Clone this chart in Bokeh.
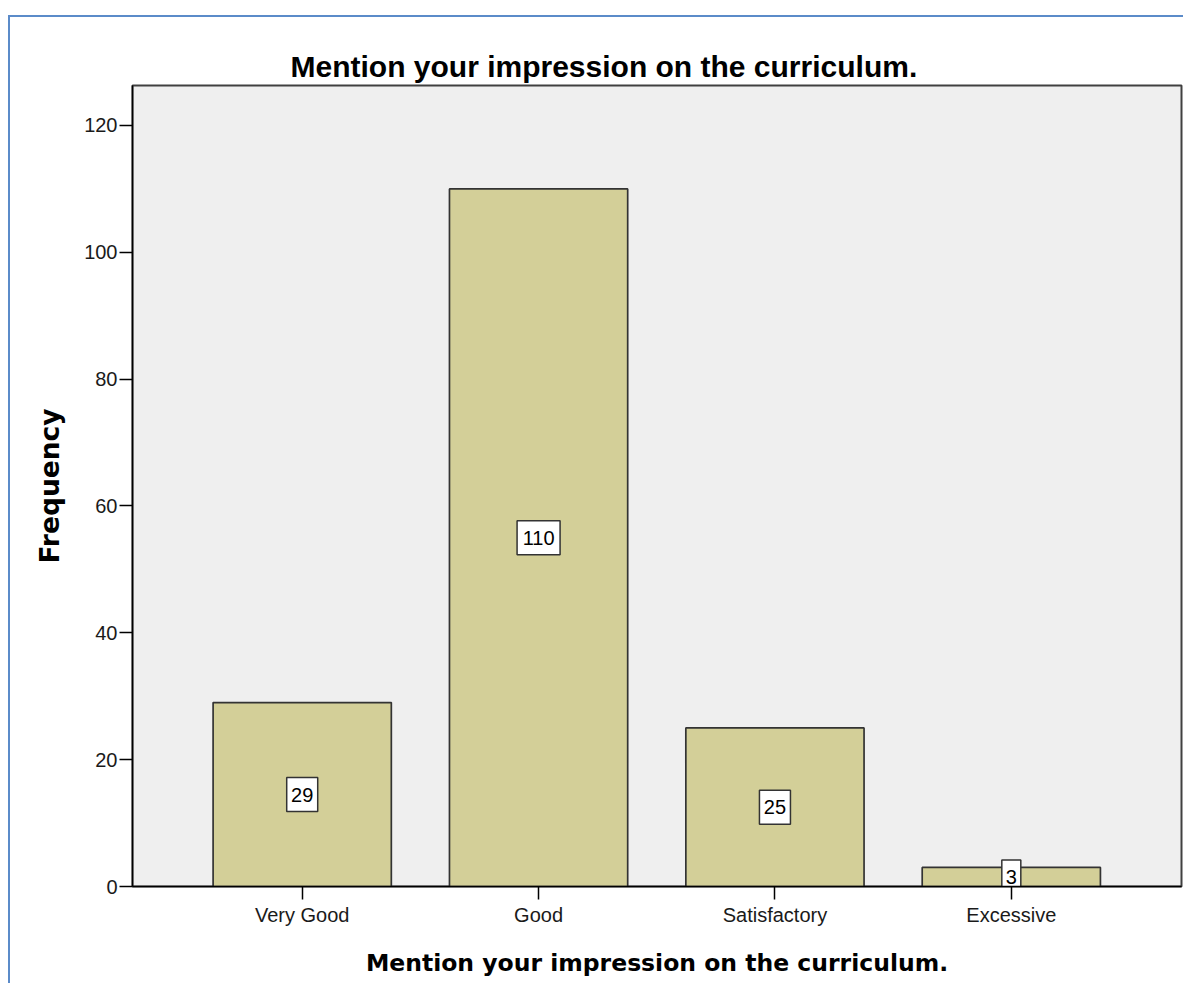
from bokeh.plotting import figure
from bokeh.models import Range1d, FixedTicker, ColumnDataSource
from bokeh.layouts import column
from bokeh.embed import file_html
from bokeh.resources import INLINE
from bokeh.core.properties import value

categories = ["Very Good", "Good", "Satisfactory", "Excessive"]
counts = [29, 110, 25, 3]
y_ticks = [0, 20, 40, 60, 80, 100, 120]
chart_title = "Mention your impression on the curriculum."
x_title = "Mention your impression on the curriculum."
y_title = "Frequency"

xs = list(range(1, len(categories) + 1))
mids = [c / 2 for c in counts]
labels = [str(c) for c in counts]
box_w = [12 * len(s) + 7 for s in labels]

src = ColumnDataSource(dict(x=xs, top=counts, mid=mids, label=labels, bw=box_w))

p = figure(width=1173, height=966,
           x_range=Range1d(0.282, 4.72), y_range=Range1d(0, 126.3),
           output_backend="svg", toolbar_location=None,
           min_border_left=122, min_border_right=2,
           min_border_top=68, min_border_bottom=97)

p.title.text = chart_title
p.title.align = "left"
p.title.offset = 158
p.title.standoff = 6
p.title.text_font = "Liberation Sans"
p.title.text_font_style = "bold"
p.title.text_font_size = "30px"
p.title.text_color = "black"

p.background_fill_color = "#efefef"
p.border_fill_color = "white"
p.outline_line_color = "#404040"
p.outline_line_width = 2
p.xgrid.visible = False
p.ygrid.visible = False

p.vbar(x="x", top="top", bottom=0, width=0.754, source=src,
       fill_color="#d3cf98", line_color="#333333", line_width=1.7)
p.rect(x="x", y="mid", width="bw", height=34, width_units="screen",
       height_units="screen", source=src, fill_color="white",
       line_color="#333333", line_width=1.5)
p.text(x="x", y="mid", text="label", source=src, text_align="center",
       text_baseline="middle", text_font=value("Liberation Sans"),
       text_font_size="20px", text_color="black")

xa = p.xaxis[0]
xa.ticker = FixedTicker(ticks=xs)
xa.major_label_overrides = {x: c for x, c in zip(xs, categories)}
ya = p.yaxis[0]
ya.ticker = FixedTicker(ticks=y_ticks)

for ax in (xa, ya):
    ax.major_tick_out = 13
    ax.major_tick_in = 0
    ax.minor_tick_out = 0
    ax.minor_tick_in = 0
    ax.axis_line_color = "black"
    ax.axis_line_width = 1.5
    ax.major_tick_line_color = "black"
    ax.major_tick_line_width = 1.5
    ax.major_label_text_font = "Liberation Sans"
    ax.major_label_text_font_size = "20px"
    ax.major_label_text_color = "#1a1a1a"
    ax.axis_label_text_font = "DejaVu Sans"
    ax.axis_label_text_font_style = "bold"
    ax.axis_label_text_color = "black"

xa.axis_label = x_title
xa.axis_label_text_font_size = "23.5px"
xa.major_label_standoff = 4
xa.axis_label_standoff = 20

ya.axis_label = y_title
ya.axis_label_text_font_size = "26.5px"
ya.major_label_standoff = 2
ya.axis_label_standoff = 16

layout = column(p, styles={"margin-top": "15px",
                           "margin-left": "8px",
                           "border-left": "2px solid #5b8bc9",
                           "border-top": "2px solid #5b8bc9"})

open("out.html", "w").write(file_html(layout, INLINE))
